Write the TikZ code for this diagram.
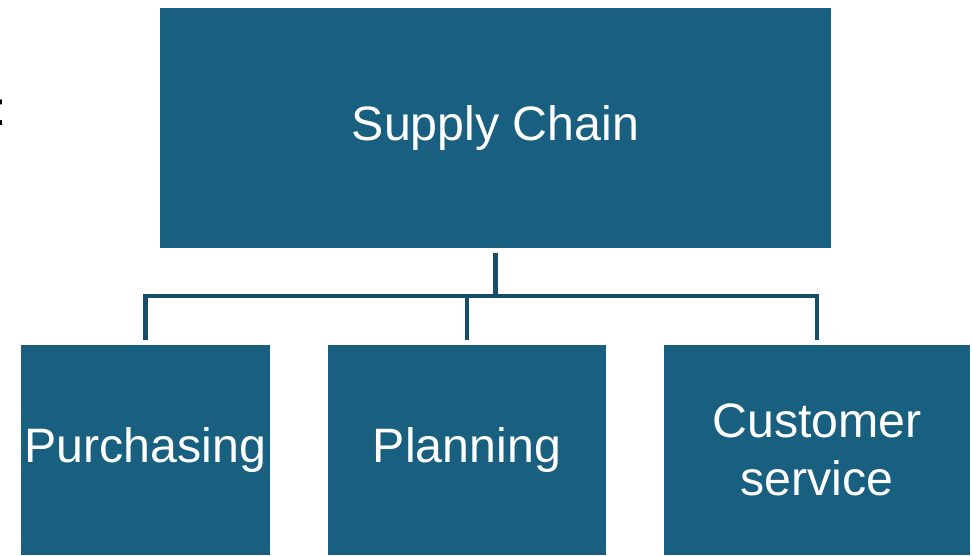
\documentclass[tikz,border=0pt]{standalone}
\usepackage{fontspec}
\setmainfont{Liberation Sans}
\usetikzlibrary{positioning}

\definecolor{boxblue}{RGB}{24,95,128}
\definecolor{linkblue}{RGB}{21,78,104}

\tikzset{
 unit/.style={fill=boxblue,text=white,inner sep=0pt,align=center,
  font=\fontsize{27.5}{33}\selectfont},
 link/.style={draw=linkblue,line width=2.3pt}
}

\begin{document}
\begin{tikzpicture}[x=0.02cm,y=-0.02cm]
 \useasboundingbox (0,0) rectangle (972,555);
 % head of the chart
 \node[unit,minimum width=13.42cm,minimum height=4.8cm] (chain) at (495.5,128) {Supply Chain};
 % the three units below
 \node[unit,minimum width=4.98cm,minimum height=4.2cm] (purch) at (145.5,450) {Purchasing};
 \node[unit,minimum width=5.56cm,minimum height=4.2cm] (plan) at (467,450) {Planning};
 \node[unit,minimum width=6.12cm,minimum height=4.2cm] (cust) at (817,450) {Customer\\service};
 % cut-off colon at the left edge
 \node[inner sep=0pt,font=\fontsize{27.5}{33}\selectfont] (colon) at (0,113) {:};
 % connectors
 \coordinate (bus) at (495.5,296);
 \draw[link] ([yshift=-0.1cm]chain.south) -- (bus);
 \draw[link] (bus) -| ([yshift=0.1cm]purch.north);
 \draw[link] (bus) -| ([yshift=0.1cm]cust.north);
 \draw[link] (plan.north |- bus) -- ([yshift=0.1cm]plan.north);
\end{tikzpicture}
\end{document}
